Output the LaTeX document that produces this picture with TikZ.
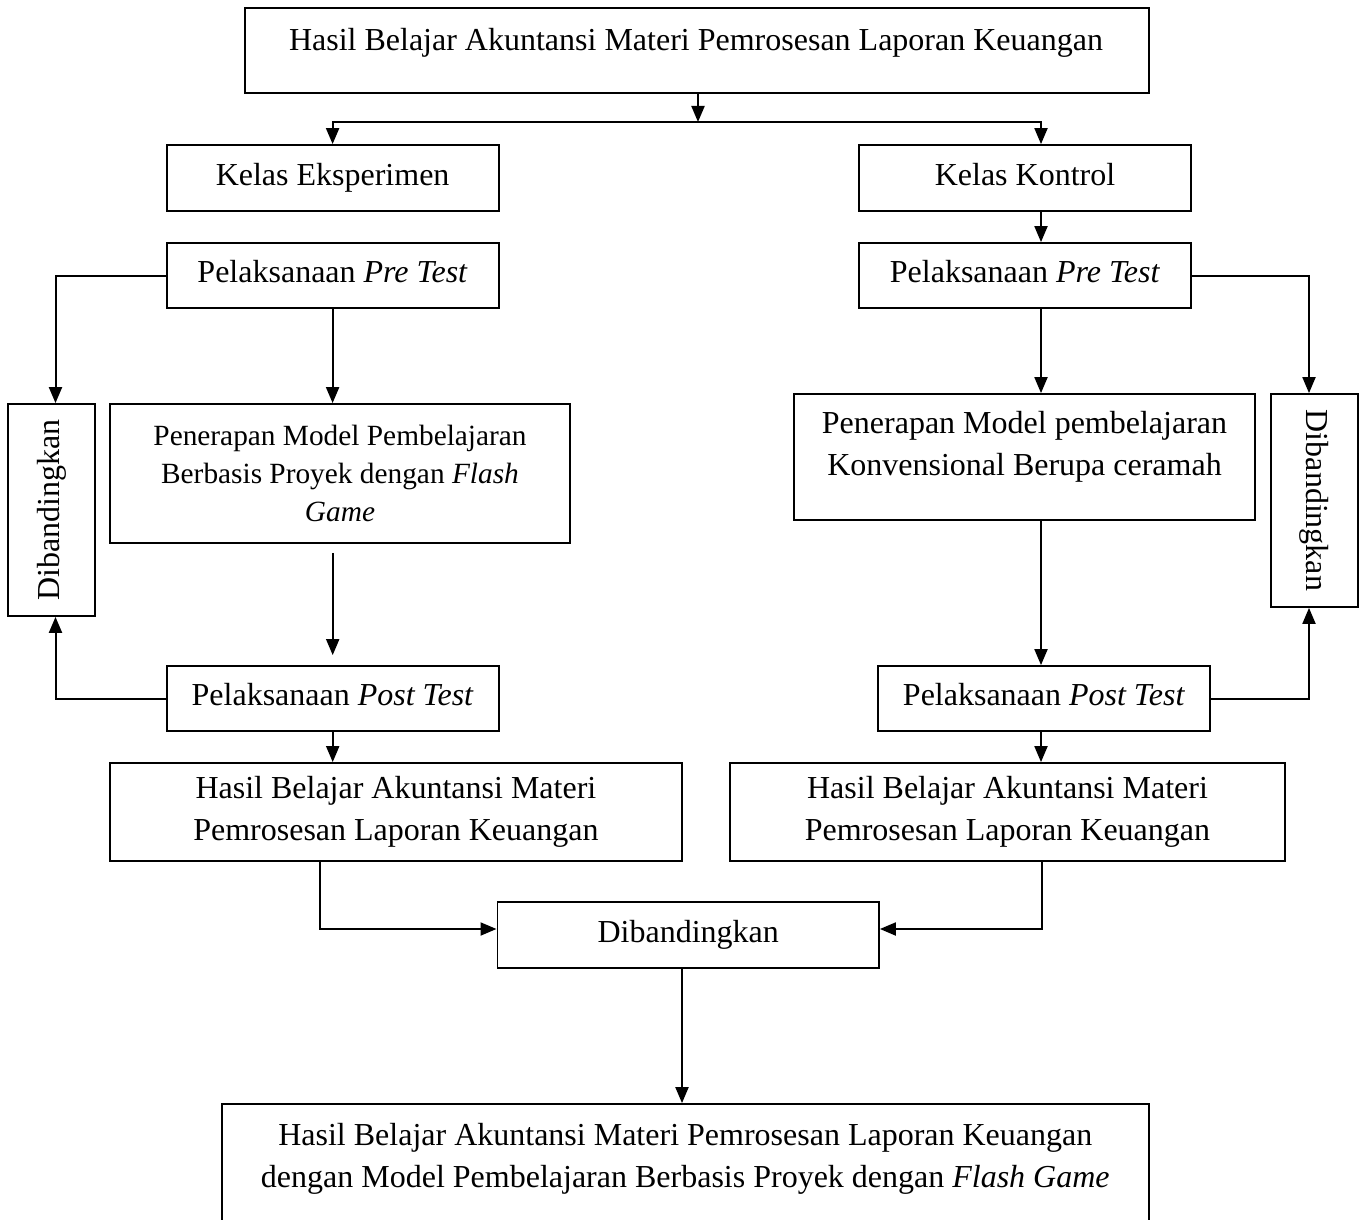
\documentclass[tikz,border=0pt]{standalone}
\usepackage{fontspec}
\setmainfont{Liberation Serif}
\usetikzlibrary{arrows.meta}

\begin{document}
\begin{tikzpicture}[x=.5pt,y=-.5pt,
  box/.style={draw,line width=.9pt,inner sep=2pt,align=center,font=\fontsize{16}{21}\selectfont},
  oneline/.style={box,text height=11pt,text depth=4pt},
  txt/.style={inner sep=0pt,align=center,font=\fontsize{16}{21}\selectfont},
  arr/.style={line width=1pt,-{Triangle[length=8pt,width=6.5pt]}}]
  \useasboundingbox (0,0) rectangle (1366,1220);

  \node[box,minimum width=452pt,minimum height=42.5pt] (top) at (697,50.5) {};
  \node[txt,anchor=base] (topTxt) at (696,51) {Hasil Belajar Akuntansi Materi Pemrosesan Laporan Keuangan};

  \node[oneline,minimum width=166pt,minimum height=33pt] (kelE) at (332.6,178) {Kelas Eksperimen};
  \node[oneline,minimum width=166pt,minimum height=33pt] (kelK) at (1025,178) {Kelas Kontrol};
  \node[oneline,minimum width=166pt,minimum height=32.5pt] (preE) at (332.6,275.6) {Pelaksanaan \textit{Pre Test}};
  \node[oneline,minimum width=166pt,minimum height=32.5pt] (preK) at (1025,275.5) {Pelaksanaan \textit{Pre Test}};

  \node[box,minimum width=230pt,minimum height=69.5pt,font=\fontsize{14.67}{19}\selectfont] (penE) at (340,473.5)
    {Penerapan Model Pembelajaran\\Berbasis Proyek dengan \textit{Flash}\\\textit{Game}};
  \node[box,minimum width=230.5pt,minimum height=63pt] (penK) at (1024.5,457) {};
  \node[txt] (penKTxt) at (1024.5,447) {Penerapan Model pembelajaran\\Konvensional Berupa ceramah};

  \node[box,rotate=90,minimum width=106pt,minimum height=43.5pt] (dibE) at (51.85,510) {Dibandingkan};
  \node[box,rotate=-90,minimum width=106.5pt,minimum height=43.5pt] (dibK) at (1314.5,500.5) {Dibandingkan};

  \node[oneline,minimum width=166pt,minimum height=32.5pt] (postE) at (332.7,698.5) {Pelaksanaan \textit{Post Test}};
  \node[oneline,minimum width=166pt,minimum height=32.5pt] (postK) at (1044,698.5) {Pelaksanaan \textit{Post Test}};

  \node[box,minimum width=286pt,minimum height=49pt] (hasE) at (395.9,812) {Hasil Belajar Akuntansi Materi\\Pemrosesan Laporan Keuangan};
  \node[box,minimum width=277.5pt,minimum height=49pt] (hasK) at (1007.5,812) {Hasil Belajar Akuntansi Materi\\Pemrosesan Laporan Keuangan};
  \node[box,minimum width=190.8pt,minimum height=33pt] (dibC) at (688.2,935) {Dibandingkan};

  \node[box,minimum width=463.3pt,minimum height=88pt] (fin) at (685.3,1192) {};
  \node[txt] (finTxt) at (685.3,1158.5) {Hasil Belajar Akuntansi Materi Pemrosesan Laporan Keuangan\\dengan Model Pembelajaran Berbasis Proyek dengan \textit{Flash Game}};

  % junctions
  \coordinate (spl) at (698,122);
  \coordinate (rx) at (1041,0);
  \coordinate (lx) at (55.5,0);
  \coordinate (dx) at (1309,0);
  \coordinate (jl) at (319.7,929);
  \coordinate (jr) at (1041.8,929);
  \coordinate (bx) at (682,0);

  \draw[arr] (top.south -| spl) -- (spl);
  \draw[arr] (spl) -| (kelE);
  \draw[arr] (spl) -| (kelK.north -| rx);
  \draw[arr] (kelK.south -| rx) -- (preK.north -| rx);

  \draw[arr] (preE) -- (preE |- penE.north);
  \draw[arr,shorten <=4.5pt,shorten >=5pt] (postE |- penE.south) -- (postE.north);
  \draw[arr] (preE.west) -| (lx |- dibE.east);
  \draw[arr] (postE.west) -| (lx |- dibE.west);
  \draw[arr] (postE) -- (postE |- hasE.north);

  \draw[arr] (preK.south -| rx) -- (penK.north -| rx);
  \draw[arr] (penK.south -| rx) -- (postK.north -| rx);
  \draw[arr] (preK.east) -| (dx |- dibK.west);
  \draw[arr] (postK.east) -| (dx |- dibK.east);
  \draw[arr] (postK.south -| rx) -- (hasK.north -| rx);

  \draw[arr] (hasE.south -| jl) -- (jl) -- (jl -| dibC.west);
  \draw[arr] (hasK.south -| jr) -- (jr) -- (jr -| dibC.east);
  \draw[arr] (dibC.south -| bx) -- (fin.north -| bx);
\end{tikzpicture}
\end{document}
